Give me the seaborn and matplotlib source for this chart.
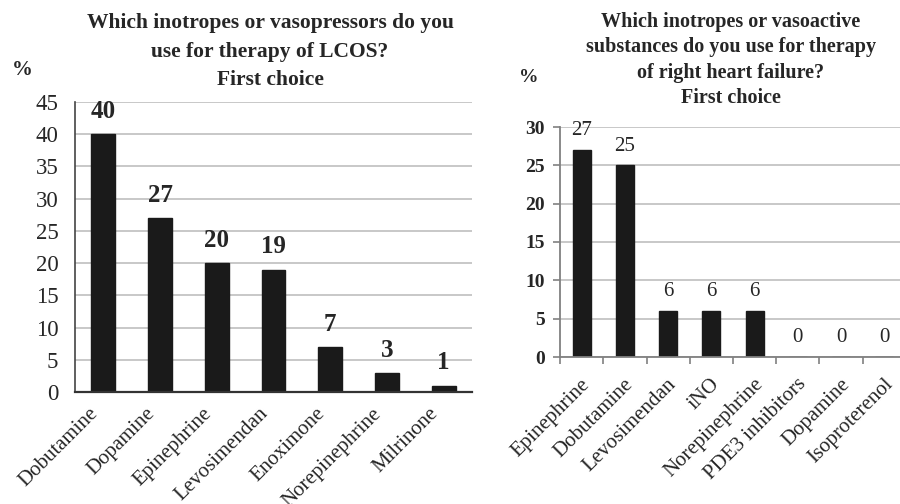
import matplotlib
matplotlib.use("Agg")
import matplotlib.pyplot as plt
import matplotlib.transforms as mtrans
import seaborn as sns
import pandas as pd

# ---- data ----
lcos_drugs = ["Dobutamine", "Dopamine", "Epinephrine", "Levosimendan",
              "Enoximone", "Norepinephrine", "Milrinone"]
lcos_pct = [40, 27, 20, 19, 7, 3, 1]

rhf_drugs = ["Epinephrine", "Dobutamine", "Levosimendan", "iNO",
             "Norepinephrine", "PDE3 inhibitors", "Dopamine", "Isoproterenol"]
rhf_pct = [27, 25, 6, 6, 6, 0, 0, 0]

left_yticks = [0, 5, 10, 15, 20, 25, 30, 35, 40, 45]
right_yticks = [0, 5, 10, 15, 20, 25, 30]

title_left = "Which inotropes or vasopressors do you\nuse for therapy of LCOS?\nFirst choice"
title_right = "Which inotropes or vasoactive\nsubstances do you use for therapy\nof right heart failure?\nFirst choice"

sns.set_theme(style="white")
plt.rcParams["font.family"] = ["Liberation Serif", "DejaVu Serif"]

BAR = "#1a1a1a"
GRID = "#c4c4c4"

fig = plt.figure(figsize=(9, 5.04), dpi=100)
W, H = 900, 504

def axes_px(x0, x1, ytop, ybot):
    return fig.add_axes([x0 / W, (H - ybot) / H, (x1 - x0) / W, (ybot - ytop) / H])

def shift_labels(labels, dx, dy):
    off = mtrans.ScaledTranslation(dx / 100, dy / 100, fig.dpi_scale_trans)
    for lab in labels:
        lab.set_transform(lab.get_transform() + off)

# ---------- left chart ----------
axL = axes_px(75, 472, 102, 392)
dfL = pd.DataFrame({"drug": lcos_drugs, "pct": lcos_pct})
sns.barplot(data=dfL, x="drug", y="pct", ax=axL, color=BAR, saturation=1,
            width=0.42, edgecolor=BAR)
axL.set_ylim(0, 45)
axL.set_xlim(-0.5, len(lcos_drugs) - 0.5)
axL.set_yticks(left_yticks)
axL.set_yticklabels([str(t) for t in left_yticks], fontsize=16.5)
axL.yaxis.grid(True, color=GRID, lw=1.3)
axL.set_axisbelow(True)
axL.set_xlabel("")
axL.set_ylabel("")
for s in ["top", "right"]:
    axL.spines[s].set_visible(False)
axL.spines["left"].set_color("#444444")
axL.spines["left"].set_linewidth(1.2)
axL.spines["bottom"].set_color("#333333")
axL.spines["bottom"].set_linewidth(1.6)
axL.tick_params(axis="y", length=0, pad=12)
axL.tick_params(axis="x", length=0, pad=6)
axL.set_xticks(range(len(lcos_drugs)))
axL.set_xticklabels(lcos_drugs, rotation=45, ha="right", va="top",
                    rotation_mode="anchor", fontsize=15)
shift_labels(axL.get_xticklabels(), -15, -4)
axL.bar_label(axL.containers[0], labels=[str(v) for v in lcos_pct],
              padding=8, fontsize=18, fontweight="bold")
fig.text(270 / W, 1 - 51.5 / H, title_left, ha="center", va="center",
         fontsize=15.5, fontweight="bold", linespacing=1.55)
fig.text(22 / W, 1 - 70 / H, "%", ha="center", va="center",
         fontsize=15, fontweight="bold")

# ---------- right chart ----------
axR = axes_px(560, 906, 127, 357)
dfR = pd.DataFrame({"drug": rhf_drugs, "pct": rhf_pct})
sns.barplot(data=dfR, x="drug", y="pct", ax=axR, color=BAR, saturation=1,
            width=0.42, edgecolor=BAR)
axR.set_ylim(0, 30)
axR.set_xlim(-0.5, len(rhf_drugs) - 0.5)
axR.set_yticks(right_yticks)
axR.set_yticklabels([str(t) for t in right_yticks], fontsize=14,
                    fontweight="bold")
axR.yaxis.grid(True, color=GRID, lw=1.3)
axR.set_axisbelow(True)
axR.set_xlabel("")
axR.set_ylabel("")
for s in ["top", "right"]:
    axR.spines[s].set_visible(False)
for s in ["left", "bottom"]:
    axR.spines[s].set_color("#808080")
    axR.spines[s].set_linewidth(1.3)
axR.tick_params(axis="y", length=5, width=1.2, color="#808080", pad=6,
                left=True)
axR.set_xticks(range(len(rhf_drugs)))
axR.set_xticks([i + 0.5 for i in range(-1, len(rhf_drugs))], minor=True)
axR.tick_params(axis="x", which="major", length=0, pad=10)
axR.tick_params(axis="x", which="minor", length=5, width=1.2,
                color="#808080", bottom=True)
axR.set_xticklabels(rhf_drugs, rotation=45, ha="right", va="top",
                    rotation_mode="anchor", fontsize=15)
shift_labels(axR.get_xticklabels(), -1, -4)
axR.bar_label(axR.containers[0], labels=[str(v) for v in rhf_pct],
              padding=7, fontsize=15)
fig.text(731 / W, 1 - 60 / H, title_right, ha="center", va="center",
         fontsize=14.5, fontweight="bold", linespacing=1.35)
fig.text(529 / W, 1 - 78 / H, "%", ha="center", va="center",
         fontsize=14, fontweight="bold")

fig.savefig("out.png", dpi=100, facecolor="white")
